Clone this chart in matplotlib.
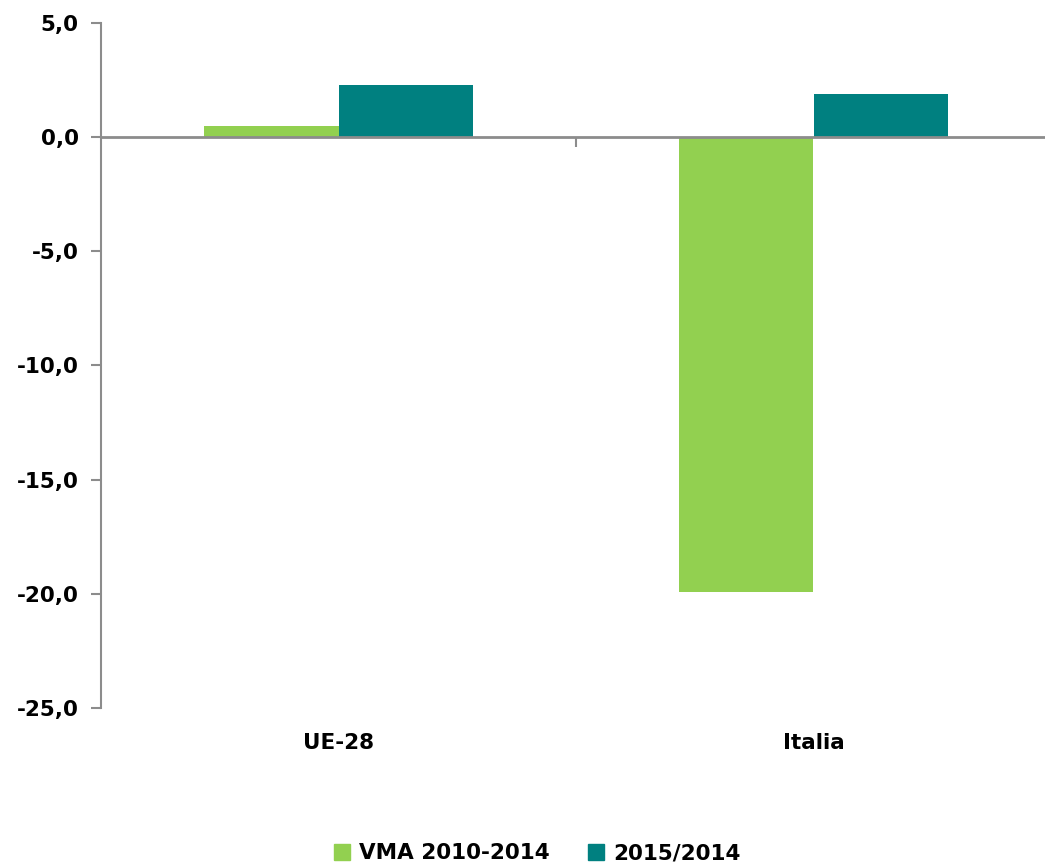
import matplotlib.pyplot as plt
from matplotlib.patches import Patch
import numpy as np

categories = ["UE-28", "Italia"]
series_labels = ["VMA 2010-2014", "2015/2014"]
vma_2010_2014 = [0.5, -19.9]
var_2015_2014 = [2.3, 1.9]
y_ticks = [5, 0, -5, -10, -15, -20, -25]

colors = ["#92D050", "#008080"]
axis_gray = "#8c8c8c"

plt.rcParams['font.family'] = ['DejaVu Sans']
plt.rcParams['font.weight'] = 'bold'

fig = plt.figure(figsize=(10.45, 8.67), dpi=100)
ax = fig.add_axes([101 / 1045, 1 - 708 / 867, 950 / 1045, (708 - 23) / 867])

x = np.arange(len(categories))
width = 0.284
ax.bar(x - width / 2, vma_2010_2014, width, color=colors[0], zorder=2)
ax.bar(x + width / 2, var_2015_2014, width, color=colors[1], zorder=2)

ax.set_xlim(-0.5, 1.5)
ax.set_ylim(-25, 5)
ax.set_yticks(y_ticks)
ax.set_yticklabels([f"{v:.1f}".replace(".", ",") for v in y_ticks], fontsize=15.5, fontweight='bold')
ax.tick_params(axis='y', length=7, width=1.5, color=axis_gray, pad=9)

for s in ['top', 'right']:
    ax.spines[s].set_visible(False)
ax.spines['left'].set_color(axis_gray)
ax.spines['left'].set_linewidth(1.5)
ax.spines['bottom'].set_position(('data', 0))
ax.spines['bottom'].set_color(axis_gray)
ax.spines['bottom'].set_linewidth(2)
ax.spines['bottom'].set_zorder(3)

# tick between categories on the zero line
ax.set_xticks([0.5])
ax.set_xticklabels([""])
ax.tick_params(axis='x', length=7, width=1.5, color=axis_gray)

# category labels below the plot
sec = ax.secondary_xaxis('bottom')
sec.set_xticks(x)
sec.set_xticklabels(categories, fontsize=15.5, fontweight='bold')
sec.tick_params(length=0, pad=18)
sec.spines['bottom'].set_visible(False)

handles = [Patch(color=c, label=l) for c, l in zip(colors, series_labels)]
fig.legend(handles=handles, loc='lower center', bbox_to_anchor=(0.514, -0.018), ncol=2,
           frameon=False, prop={'weight': 'bold', 'size': 15.5},
           handlelength=0.75, handleheight=0.75, handletextpad=0.4, columnspacing=1.8)

fig.savefig("out.png", dpi=100)
